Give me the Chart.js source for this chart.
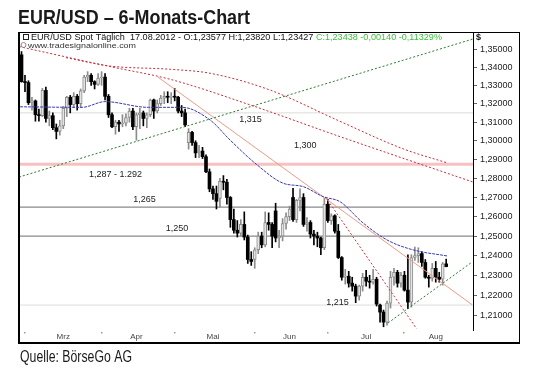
<!DOCTYPE html>
<html>
<head>
<meta charset="utf-8">
<script src="https://cdn.jsdelivr.net/npm/chart.js@4.4.1/dist/chart.umd.min.js"></script>
<style>
html, body { margin: 0; padding: 0; background: #fff; }
#wrap { position: relative; width: 540px; height: 370px; }
</style>
</head>
<body>
<div id="wrap"><canvas id="fxChart" width="540" height="370"></canvas></div>
<script>
// DATA (daily candles 29.02.2012 - 17.08.2012, index 0 = 29.02.) //
var opens = [1.3468,1.3320,1.3315,1.3205,1.3215,1.3140,1.3135,1.3272,1.3120,1.3135,1.3070,1.3050,1.3080,1.3175,1.3235,1.3195,1.3240,1.3200,1.3270,1.3345,1.3355,1.3320,1.3305,
  1.3340,1.3345,1.3240,1.3140,1.3075,1.3100,1.3090,1.3095,1.3125,1.3160,1.3075,1.3140,1.3150,1.3120,1.3140,1.3220,1.3160,1.3200,1.3230,1.3240,1.3235,
  1.3240,1.3235,1.3160,1.3150,1.2990,1.3045,1.2990,1.2935,1.2945,1.2915,1.2835,1.2745,1.2720,1.2695,1.2785,1.2780,1.2700,1.2585,1.2530,1.2515,1.2560,1.2495,1.2380,
  1.2380,1.2430,1.2500,1.2455,1.2570,1.2560,1.2630,1.2490,1.2500,1.2565,1.2600,1.2700,1.2585,1.2685,1.2700,1.2560,1.2570,1.2510,1.2500,1.2490,1.2440,
  1.2665,1.2580,1.2605,1.2525,1.2390,1.2290,1.2295,1.2260,1.2245,1.2195,1.2245,1.2290,1.2270,1.2265,1.2280,1.2150,1.2115,1.2065,1.2160,1.2290,1.2315,1.2260,
  1.2300,1.2225,1.2165,1.2390,1.2400,1.2410,1.2365,1.2290,1.2285,1.2335,1.2290,1.2280,1.23577];
var highs = [1.3486,1.3355,1.3325,1.3235,1.3220,1.3170,1.3283,1.3290,1.3160,1.3150,1.3090,1.3110,1.3185,1.3240,1.3245,1.3260,1.3250,1.3280,1.3355,1.3375,1.3365,1.3325,1.3365,
  1.3375,1.3365,1.3250,1.3150,1.3110,1.3110,1.3140,1.3145,1.3175,1.3175,1.3150,1.3175,1.3160,1.3150,1.3225,1.3225,1.3220,1.3245,1.3265,1.3265,1.3260,
  1.3283,1.3240,1.3190,1.3170,1.3065,1.3050,1.3000,1.2975,1.2965,1.2925,1.2850,1.2760,1.2760,1.2800,1.2815,1.2795,1.2705,1.2640,1.2580,1.2585,1.2625,1.2505,1.2420,
  1.2440,1.2520,1.2520,1.2625,1.2620,1.2570,1.2670,1.2530,1.2590,1.2620,1.2655,1.2748,1.2690,1.2745,1.2720,1.2595,1.2580,1.2530,1.2520,1.2495,1.2695,
  1.2690,1.2615,1.2610,1.2560,1.2395,1.2330,1.2320,1.2290,1.2255,1.2250,1.2310,1.2325,1.2300,1.2330,1.2290,1.2155,1.2125,1.2170,1.2320,1.2335,1.2325,1.2315,
  1.2320,1.2404,1.2405,1.2443,1.2440,1.2420,1.2380,1.2300,1.2360,1.2370,1.2315,1.2365,1.23820];
var lows = [1.3317,1.3265,1.3195,1.3165,1.3105,1.3105,1.3130,1.3100,1.3080,1.3060,1.3010,1.3030,1.3065,1.3130,1.3150,1.3180,1.3165,1.3180,1.3260,1.3320,1.3300,1.3280,1.3300,
  1.3300,1.3220,1.3125,1.3070,1.3035,1.3050,1.3075,1.3080,1.3100,1.3060,1.3003,1.3065,1.3080,1.3070,1.3130,1.3120,1.3150,1.3190,1.3200,1.3205,1.3200,
  1.3215,1.3150,1.3130,1.3075,1.2955,1.2975,1.2910,1.2910,1.2905,1.2830,1.2730,1.2690,1.2640,1.2650,1.2740,1.2665,1.2545,1.2515,1.2495,1.2500,1.2480,1.2360,1.2350,
  1.2335,1.2410,1.2440,1.2445,1.2530,1.2440,1.2470,1.2440,1.2475,1.2535,1.2580,1.2575,1.2570,1.2630,1.2550,1.2525,1.2490,1.2455,1.2445,1.2405,1.2430,
  1.2570,1.2560,1.2515,1.2385,1.2275,1.2255,1.2240,1.2220,1.2162,1.2175,1.2220,1.2245,1.2235,1.2255,1.2145,1.2065,1.2042,1.2050,1.2135,1.2250,1.2240,1.2240,
  1.2220,1.2132,1.2140,1.2375,1.2365,1.2345,1.2285,1.2240,1.2270,1.2265,1.2265,1.2250,1.23427];
var closes = [1.3320,1.3315,1.3205,1.3215,1.3140,1.3135,1.3272,1.3120,1.3135,1.3070,1.3050,1.3080,1.3175,1.3235,1.3195,1.3240,1.3200,1.3270,1.3345,1.3355,1.3320,1.3305,1.3340,
  1.3345,1.3240,1.3140,1.3075,1.3100,1.3090,1.3095,1.3125,1.3160,1.3075,1.3140,1.3150,1.3120,1.3140,1.3220,1.3160,1.3200,1.3230,1.3240,1.3235,1.3240,
  1.3235,1.3160,1.3150,1.3085,1.3045,1.2990,1.2935,1.2945,1.2915,1.2835,1.2745,1.2720,1.2680,1.2785,1.2780,1.2700,1.2585,1.2530,1.2515,1.2560,1.2495,1.2380,1.2370,
  1.2430,1.2500,1.2455,1.2570,1.2560,1.2500,1.2490,1.2500,1.2565,1.2600,1.2640,1.2585,1.2685,1.2700,1.2560,1.2570,1.2510,1.2500,1.2490,1.2440,1.2665,
  1.2580,1.2605,1.2525,1.2390,1.2290,1.2295,1.2260,1.2245,1.2195,1.2245,1.2290,1.2270,1.2265,1.2280,1.2155,1.2115,1.2065,1.2160,1.2290,1.2315,1.2260,1.2300,
  1.2225,1.2165,1.2390,1.2400,1.2410,1.2365,1.2290,1.2285,1.2335,1.2290,1.2280,1.2358,1.23438];

var monthNames = ['Mrz', 'Apr', 'Mai', 'Jun', 'Jul', 'Aug'];
var monthLabelAt = [12, 33, 55, 77, 99, 119];
var monthStartAt = [1, 23, 44, 67, 88, 110];
var priceTicks = [1.21, 1.22, 1.23, 1.24, 1.25, 1.26, 1.27, 1.28, 1.29, 1.30, 1.31, 1.32, 1.33, 1.34, 1.35];

// horizontal marks
var levelsLight = [1.315, 1.215];
var levelsDark = [1.265, 1.25];
var zoneLevel = 1.2875;

// indicator / trend lines as [day index, price]
var ma50 = [[-0.4,1.3183],[17.4,1.3180],[24.0,1.3211],[36.4,1.3180],[46.1,1.3180],[54.2,1.3111],[59.9,1.3004],[67.7,1.2871],
  [75.1,1.2775],[80.9,1.2757],[86.7,1.2704],[91.5,1.2678],[98.1,1.2568],[105.0,1.2480],[112.5,1.2429],[122.3,1.2398]];
var ma200 = [[12.8,1.3452],[25.4,1.3406],[42.7,1.3388],[54.2,1.3366],[71.4,1.3274],[90.7,1.3111],[109.6,1.2957],[122.3,1.2882]];
var redCurve = [[-0.72,1.3514],[25.4,1.3403],[42.7,1.3333],[65.7,1.3193],[91.5,1.3022],[129.7,1.2781]];
var salmonTrend = [[39.2,1.3345],[129.5,1.2151]];
var steepTrend = [[87.3,1.2703],[113.5,1.2032]];
var greenTrend = [[-0.72,1.2807],[129.7,1.3556]];
var greenSupport = [[105.3,1.2061],[129.5,1.2368]];

var xMin = -0.72, xMax = 129.7;
var yMin = 1.2026, yMax = 1.3595;

// BUILD DATASETS //
var upWick = [], downWick = [], upBody = [], downBody = [];
for (var i = 0; i < closes.length; i++) {
  var wick = {x: i, y: [lows[i], highs[i]]};
  var body = {x: i, y: [opens[i], closes[i]]};
  if (closes[i] >= opens[i]) { upWick.push(wick); upBody.push(body); }
  else { downWick.push(wick); downBody.push(body); }
}

toXY = (pts) => pts.map(function(p) { return {x: p[0], y: p[1]}; });

function lineSet(pts, color, dash, width, order, smooth) {
  return {
    type: 'line', data: toXY(pts), borderColor: color, borderWidth: width, borderDash: dash,
    pointRadius: 0, fill: false, order: order,
    tension: smooth ? 0.4 : 0, cubicInterpolationMode: smooth ? 'monotone' : 'default'
  };
}
function levelSet(v, color, width) {
  return lineSet([[xMin, v], [xMax, v]], color, [], width, 10, false);
}

var datasets = [];
levelsLight.forEach(function(v) { datasets.push(levelSet(v, '#dcdcdc', 1)); });
levelsDark.forEach(function(v) { datasets.push(levelSet(v, '#8a8a8a', 1.2)); });
datasets.push(levelSet(zoneLevel, '#f8c0c0', 3));
datasets.push({type: 'bar', data: upWick, backgroundColor: '#8c8c8c', barThickness: 1, grouped: false, order: 6, minBarLength: 1});
datasets.push({type: 'bar', data: downWick, backgroundColor: '#000', barThickness: 1, grouped: false, order: 6, minBarLength: 1});
datasets.push({type: 'bar', data: upBody, backgroundColor: '#e4e4e4', borderColor: '#8c8c8c', borderWidth: 1, borderSkipped: false,
  barThickness: 3, grouped: false, order: 5, minBarLength: 1});
datasets.push({type: 'bar', data: downBody, backgroundColor: '#000', borderColor: '#000', borderWidth: 0, borderSkipped: false,
  barThickness: 3, grouped: false, order: 5, minBarLength: 1});
datasets.push(lineSet(greenTrend, '#2f7a2f', [2, 2], 1, 2, false));
datasets.push(lineSet(greenSupport, '#2f7a2f', [2, 2], 1, 2, false));
datasets.push(lineSet(ma200, '#cc2a3a', [2, 2], 1, 2, true));
datasets.push(lineSet(redCurve, '#cc2a3a', [2, 2], 1, 2, true));
datasets.push(lineSet(salmonTrend, '#ee9a88', [], 1, 2, false));
datasets.push(lineSet(steepTrend, '#d83040', [2, 2], 1, 2, false));
datasets.push(lineSet(ma50, '#3a3ab0', [3, 1], 1, 1, true));

// TEXT DECORATION //
var noteLabels = [['1,315', 65.8, 1.3113], ['1,300', 81.5, 1.2977], ['1,287 - 1.292', 27.0, 1.2823],
  ['1,265', 35.3, 1.2692], ['1,250', 44.7, 1.2537], ['1,215', 90.8, 1.2161]];
var uiFont = '"Liberation Sans", Arial, sans-serif';
var narrowFont = '"Liberation Sans Narrow", "Liberation Sans", Arial, sans-serif';

fitText = (ctx, text, x, y, width, font, color) => {
  ctx.font = font;
  var w = ctx.measureText(text).width;
  ctx.save();
  ctx.translate(x, y);
  ctx.scale(width / w, 1);
  ctx.fillStyle = color;
  ctx.textAlign = 'left';
  ctx.textBaseline = 'alphabetic';
  ctx.fillText(text, 0, 0);
  ctx.restore();
}

var chartDecor = {
  id: 'chartDecor',
  afterDraw: function(chart) {
    var ctx = chart.ctx, area = chart.chartArea, xs = chart.scales.x, ys = chart.scales.y;
    var right = area.right + ys.width, bottom = area.bottom + xs.height;
    ctx.save();
    // frame
    ctx.strokeStyle = '#000';
    ctx.lineWidth = 1;
    ctx.strokeRect(area.left + 0.5, area.top + 0.5, right - area.left, bottom - area.top);
    ctx.lineWidth = 2;
    ctx.beginPath();
    ctx.moveTo(area.left, area.top); ctx.lineTo(area.left, bottom + 1); ctx.lineTo(right + 1, bottom + 1);
    ctx.stroke();
    // month start dots
    ctx.fillStyle = '#999';
    monthStartAt.forEach(function(v) {
      ctx.fillRect(Math.round(xs.getPixelForValue(v)) - 1, area.bottom + 2, 1.5, 1.5);
    });
    // level notes
    ctx.fillStyle = '#222';
    ctx.font = '9px ' + uiFont;
    ctx.textAlign = 'center';
    ctx.textBaseline = 'middle';
    noteLabels.forEach(function(n) {
      ctx.fillText(n[0], xs.getPixelForValue(n[1]), ys.getPixelForValue(n[2]));
    });
    // header line
    var hdrA = 'EUR/USD Spot T\u00e4glich  17.08.2012 - O:1,23577 H:1,23820 L:1,23427 ';
    var hdrB = 'C:1,23438 -0,00140 -0,11329%';
    ctx.font = '9px ' + uiFont;
    var wA = ctx.measureText(hdrA).width, wB = ctx.measureText(hdrB).width;
    var s = (442 - 31) / (wA + wB);
    fitText(ctx, hdrA, 31, 39.5, wA * s, '9px ' + uiFont, '#111');
    fitText(ctx, hdrB, 31 + wA * s, 39.5, wB * s, '9px ' + uiFont, '#3cbf3c');
    ctx.strokeStyle = '#222';
    ctx.lineWidth = 1;
    ctx.strokeRect(23.5, 34.5, 5, 5);
    // watermark
    ctx.strokeStyle = '#888';
    ctx.beginPath(); ctx.arc(23.5, 45, 2.5, 0, Math.PI * 2); ctx.stroke();
    fitText(ctx, 'www.tradesignalonline.com', 28, 48, 108, '8px ' + uiFont, '#333');
    // currency
    ctx.fillStyle = '#111';
    ctx.font = 'bold 9px ' + uiFont;
    ctx.textAlign = 'left';
    ctx.textBaseline = 'alphabetic';
    ctx.fillText('$', area.right + 3, 40);
    // title and source
    fitText(ctx, 'EUR/USD \u2013 6-Monats-Chart', 18, 23.5, 232, 'bold 20px ' + narrowFont, '#1a1a1a');
    fitText(ctx, 'Quelle: B\u00f6rseGo AG', 20, 362, 112, '16px ' + narrowFont, '#1a1a1a');
    ctx.restore();
  }
};

// CREATE CHART //
var fxContainer = document.getElementById("fxChart");
var fxChart = new Chart(fxContainer, {
  type: 'bar',
  data: { datasets: datasets },
  plugins: [chartDecor],
  options: {
    responsive: false,
    animation: false,
    events: [],
    layout: { padding: { left: 19, top: 32, right: 21, bottom: 28 } },
    plugins: { legend: { display: false }, tooltip: { enabled: false } },
    scales: {
      x: {
        type: 'linear', position: 'bottom', min: xMin, max: xMax, offset: false,
        grid: { display: false, drawTicks: false },
        border: { display: false },
        afterFit: function(scale) { scale.height = 12; },
        afterBuildTicks: function(scale) { scale.ticks = monthLabelAt.map(function(v) { return {value: v}; }); },
        ticks: {
          autoSkip: false, maxRotation: 0, padding: 2, color: '#444',
          font: { size: 8, family: uiFont },
          callback: function(v) { var k = monthLabelAt.indexOf(v); return k >= 0 ? monthNames[k] : ''; }
        }
      },
      y: {
        type: 'logarithmic', position: 'right', min: yMin, max: yMax,
        grid: { drawOnChartArea: false, drawTicks: true, tickLength: 4, color: '#666' },
        border: { display: true, color: '#000', width: 1 },
        afterFit: function(scale) { scale.width = 46; },
        afterBuildTicks: function(scale) { scale.ticks = priceTicks.map(function(v) { return {value: v}; }); },
        ticks: {
          padding: 3, color: '#222', font: { size: 9, family: uiFont },
          callback: function(v) { return v.toFixed(5).replace('.', ','); }
        }
      }
    }
  }
});
</script>
</body>
</html>
